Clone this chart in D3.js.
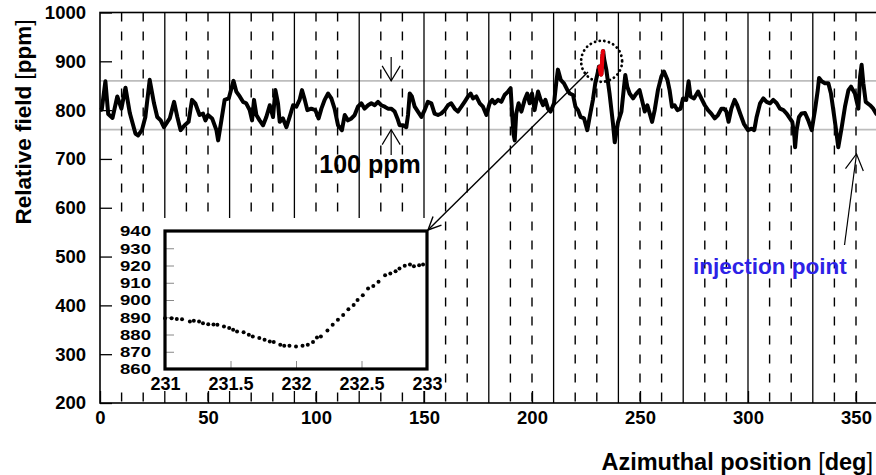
<!DOCTYPE html>
<html><head><meta charset="utf-8">
<script src="https://cdn.jsdelivr.net/npm/d3@7"></script>
<style>
body{margin:0;background:#fff}
svg{display:block}
text{font-family:"Liberation Sans",Arial,Helvetica,sans-serif;font-weight:bold;fill:#000}
</style>
</head><body>
<svg id="c" width="876" height="475"></svg>
<script>
// ---- data ----
const fieldDeg = [0,0.8,2.5,3.8,5.8,8.0,9.9,11.8,13.8,16.4,17.6,19.4,21.0,23.0,25.0,26.5,28.1,29.6,31.2,32.3,34.3,35.8,37.3,39.2,41.0,42.6,44.1,46.1,47.7,48.8,50.0,51.9,53.9,54.7,56.2,57.7,59.6,61.8,63.1,64.7,66.2,67.7,69.3,70.4,71.3,72.4,73.9,75.5,77.0,78.6,80.1,81.2,82.4,83.2,84.7,86.3,87.8,89.4,90.9,92.4,93.5,94.8,96.0,97.8,99.7,101.2,102.5,104.0,105.6,107.1,108.6,110.2,112.0,113.3,114.8,116.4,117.9,119.4,121.0,122.5,124.1,125.6,127.2,128.7,130.2,131.8,133.3,134.9,136.4,137.7,138.7,140.3,141.8,142.6,143.4,144.4,145.7,147.2,148.8,150.3,151.8,153.4,154.9,156.5,158.0,159.6,161.1,162.6,164.2,165.7,167.3,168.8,170.4,171.6,172.7,174.2,175.8,177.3,178.9,180.4,181.6,182.7,184.3,185.8,187.3,188.9,190.1,190.7,191.4,192.0,192.7,193.8,195.1,196.6,197.8,198.9,200.0,201.2,202.8,204.0,205.1,206.2,207.4,208.6,210.2,211.3,212.0,213.3,214.8,216.4,217.5,219.0,220.1,221.3,222.5,224.1,225.6,226.7,228.2,229.3,230.5,233.4,234.4,235.9,237.5,238.3,239.8,241.4,242.6,243.2,244.1,245.2,246.8,248.3,249.8,250.9,252.2,253.4,254.5,255.6,256.8,258.3,259.9,261.1,262.7,263.7,264.8,266.0,267.3,268.8,269.9,271.4,272.5,273.4,275.0,276.9,278.4,280.0,281.5,283.0,284.6,286.1,287.7,288.9,290.0,291.0,292.3,293.8,295.0,296.6,298.1,300.0,301.7,302.9,304.0,305.6,307.1,308.6,310.2,311.7,313.3,314.8,316.4,317.9,319.4,320.5,321.5,321.8,322.5,323.6,324.8,326.4,327.9,329.5,331.0,332.3,332.9,334.1,335.6,337.2,338.4,339.5,340.6,341.8,343.4,344.9,346.5,347.7,349.5,351.1,351.9,352.6,353.4,354.5,356.5,358.0,359.3,360];
const fieldPpm = [800,801,859,792,784,828,803,846,794,752,748,759,786,862,814,786,779,765,776,783,817,786,759,769,776,821,814,790,793,779,790,783,759,738,779,821,824,860,838,828,817,814,800,779,821,790,779,769,786,810,786,841,814,776,783,765,786,810,807,821,841,821,800,803,800,783,803,821,834,824,803,769,759,790,779,783,790,807,814,803,810,814,810,817,810,807,803,803,797,783,769,769,765,790,834,828,807,797,786,800,817,814,793,790,793,800,810,814,803,797,807,817,828,834,824,828,814,807,790,814,821,814,821,817,831,838,845,800,752,738,793,814,797,821,834,814,834,800,838,821,810,821,803,797,814,859,883,862,855,841,834,831,807,800,786,783,759,786,821,855,878,905,883,834,772,734,775,797,848,872,848,834,824,834,841,821,797,810,793,776,800,841,869,879,862,841,807,810,800,803,824,821,859,828,824,838,824,810,800,793,783,790,803,803,797,776,803,821,810,790,772,759,762,759,786,814,824,817,814,821,814,803,800,793,783,776,745,724,759,786,793,794,779,759,800,841,866,859,855,855,834,800,765,724,765,807,841,848,834,803,869,893,855,817,810,803,793,790];

// zoomed section 231-233 deg (inset, and red part of main curve)
const zoomDeg = [231.00,231.05,231.09,231.13,231.19,231.22,231.26,231.29,231.33,231.37,231.40,231.45,231.49,231.52,231.55,231.60,231.64,231.67,231.72,231.76,231.80,231.83,231.88,231.91,231.95,232.00,232.05,232.09,232.13,232.16,232.19,232.24,232.28,232.32,232.36,232.40,232.44,232.47,232.51,232.55,232.59,232.63,232.68,232.72,232.76,232.79,232.83,232.87,232.90,232.94,232.97];
const zoomPpm = [889.4,889.4,889.0,888.8,887.5,887.9,887.5,886.5,886.0,885.8,885.6,884.6,883.7,882.7,881.7,881.3,879.8,878.8,877.9,876.9,876.0,875.6,874.0,873.5,873.5,873.1,873.5,874.0,875.6,878.3,878.8,882.3,885.6,888.5,891.3,894.6,897.1,900.0,902.7,906.7,908.1,910.6,914.4,915.4,916.7,918.3,919.8,920.6,919.6,920.2,920.6];

const xTickLabels = [0,50,100,150,200,250,300,350];
const yTickLabels = [200,300,400,500,600,700,800,900,1000];
const insetXTicks = [231,231.5,232,232.5,233];
const insetYTicks = [860,870,880,890,900,910,920,930,940];
const solidLinesDeg = [30,60,90,120,150,180,210,240,270,300,330];
const dashedLinesDeg = [10,20,40,50,70,80,100,110,130,140,160,170,190,200,220,230,250,260,280,290,310,320,340,350];
const bandPpm = [760,860];
const ppmArrowDeg = 134.8;
const injectionDeg = 350;

// ---- scales ----
const svg = d3.select("#c");
const x = d3.scaleLinear().domain([0,360]).range([100,877.6]);
const y = d3.scaleLinear().domain([200,1000]).range([403,12.5]);
const xi = d3.scaleLinear().domain([231,233]).range([165,427]);
const yi = d3.scaleLinear().domain([860,940]).range([369,231]);
const FONT = "'Liberation Sans',Arial,sans-serif";

// grid band lines
svg.append("g").selectAll("line").data(bandPpm).join("line")
  .attr("x1",x(0)).attr("x2",876).attr("y1",d=>y(d)).attr("y2",d=>y(d))
  .attr("stroke","#bdbdbd").attr("stroke-width",1.6);

// vertical lines
svg.append("g").selectAll("line").data(solidLinesDeg).join("line")
  .attr("x1",d=>x(d)).attr("x2",d=>x(d)).attr("y1",y(1000)).attr("y2",y(200))
  .attr("stroke","#000").attr("stroke-width",1.3);
svg.append("g").selectAll("line").data(dashedLinesDeg).join("line")
  .attr("x1",d=>x(d)).attr("x2",d=>x(d)).attr("y1",y(1000)).attr("y2",y(200))
  .attr("stroke","#000").attr("stroke-width",1.4).attr("stroke-dasharray","9,10");

// main curve
const mainPts = fieldDeg.map((d,i)=>[d,fieldPpm[i]])
  .concat(zoomDeg.map((d,i)=>[d,zoomPpm[i]]))
  .sort((a,b)=>a[0]-b[0]);
const line = d3.line().x(d=>x(d[0])).y(d=>y(d[1]));
svg.append("path").datum(mainPts).attr("d",line)
  .attr("fill","none").attr("stroke","#000").attr("stroke-width",4).attr("stroke-linejoin","round");
svg.append("path").datum(zoomDeg.map((d,i)=>[d,zoomPpm[i]])).attr("d",line)
  .attr("fill","none").attr("stroke","#e8000b").attr("stroke-width",4.2).attr("stroke-linejoin","round");

// main axes
const gx = svg.append("g").attr("transform",`translate(0,${y(200)})`);
gx.call(d3.axisBottom(x).tickValues(d3.range(0,361,10)).tickSize(-6).tickFormat(""));
gx.call(d3.axisBottom(x).tickValues(xTickLabels).tickSize(-12).tickPadding(8).tickFormat(d3.format("d")));
const gy = svg.append("g").attr("transform",`translate(${x(0)},0)`);
gy.call(d3.axisLeft(y).tickValues(d3.range(200,1001,20)).tickSize(-6).tickFormat(""));
gy.call(d3.axisLeft(y).tickValues(yTickLabels).tickSize(-12).tickPadding(14).tickFormat(d3.format("d")));
[gx,gy].forEach(g=>{
  g.selectAll("path.domain").remove();
  g.selectAll(".tick line").attr("stroke","#000").attr("stroke-width",1.3);
  g.selectAll("text").style("font-size","18.5px").style("font-family",FONT).style("font-weight","bold");
});
// frame
svg.append("rect").attr("x",x(0)).attr("y",y(1000)).attr("width",900).attr("height",y(200)-y(1000))
  .attr("fill","none").attr("stroke","#000").attr("stroke-width",1.6);

// ---- inset pad ----
svg.append("rect").attr("x",113).attr("y",218).attr("width",330).attr("height",173).attr("fill","#fff");
const gxi = svg.append("g").attr("transform",`translate(0,${yi(860)})`);
gxi.call(d3.axisBottom(xi).tickValues(d3.range(231,233.001,0.1)).tickSize(-4).tickFormat(""));
gxi.call(d3.axisBottom(xi).tickValues(insetXTicks).tickSize(-8).tickPadding(8).tickFormat(d=>d3.format("")(d)));
const gyi = svg.append("g").attr("transform",`translate(${xi(231)},0)`);
gyi.call(d3.axisLeft(yi).tickValues(d3.range(860,940.001,2)).tickSize(-5).tickFormat(""));
gyi.call(d3.axisLeft(yi).tickValues(insetYTicks).tickSize(-9).tickPadding(14).tickFormat(d3.format("d")));
[gxi,gyi].forEach(g=>{
  g.selectAll("path.domain").remove();
  g.selectAll(".tick line").attr("stroke","#888").attr("stroke-width",1);
  g.selectAll("text").style("font-family",FONT).style("font-weight","bold");
});
gxi.selectAll("text").style("font-size","18px");
gyi.selectAll("text").style("font-size","15px").attr("textLength",31).attr("lengthAdjust","spacingAndGlyphs");
svg.append("rect").attr("x",xi(231)).attr("y",yi(940)).attr("width",xi(233)-xi(231)).attr("height",yi(860)-yi(940))
  .attr("fill","none").attr("stroke","#000").attr("stroke-width",3.2);
svg.append("g").selectAll("circle").data(zoomDeg.map((d,i)=>[d,zoomPpm[i]])).join("circle")
  .attr("cx",d=>xi(d[0])).attr("cy",d=>yi(d[1])).attr("r",2).attr("fill","#000");

// ---- annotations ----
function arrow(x1,y1,x2,y2,len,half,w){
  const g = svg.append("g").attr("stroke","#000").attr("stroke-width",w).attr("fill","none");
  g.append("line").attr("x1",x1).attr("y1",y1).attr("x2",x2).attr("y2",y2);
  const a = Math.atan2(y2-y1,x2-x1);
  const bx = x2-len*Math.cos(a), by = y2-len*Math.sin(a);
  const px = -Math.sin(a)*half, py = Math.cos(a)*half;
  g.append("path").attr("d",`M${bx+px},${by+py}L${x2},${y2}L${bx-px},${by-py}`);
}
// 100 ppm arrows
arrow(x(ppmArrowDeg),57,x(ppmArrowDeg),y(860),15,9,1.2);
arrow(x(ppmArrowDeg),155,x(ppmArrowDeg),y(760),15,9,1.2);
svg.append("text").attr("x",370).attr("y",173).attr("text-anchor","middle").style("font-size","25px").text("100 ppm");

// dotted circle around zoomed region
svg.append("circle").attr("cx",x(232)+0.5).attr("cy",y(900)).attr("r",20.5)
  .attr("fill","none").attr("stroke","#000").attr("stroke-width",2.8)
  .attr("stroke-dasharray","0.1,4.6").attr("stroke-linecap","round");
// leader to inset
arrow(588,72,xi(233)+1,yi(940)-1,13,6,1.4);

// injection point
arrow(844.5,245,x(injectionDeg)+0.5,154,16,9,1.2);
svg.append("text").attr("x",693).attr("y",274).style("font-size","22.5px").style("fill","#2d22e6").text("injection point");

// axis titles
const xt = svg.append("text").attr("x",873).attr("y",470).attr("text-anchor","end").style("font-size","23.5px");
xt.append("tspan").text("Azimuthal position ");
xt.append("tspan").style("font-weight","normal").text("[");
xt.append("tspan").text("deg");
xt.append("tspan").style("font-weight","normal").text("]");
const yt = svg.append("text").attr("transform","translate(31,122) rotate(-90)").attr("text-anchor","middle").style("font-size","22.5px");
yt.append("tspan").text("Relative field ");
yt.append("tspan").style("font-weight","normal").text("[");
yt.append("tspan").text("ppm");
yt.append("tspan").style("font-weight","normal").text("]");
</script>
</body></html>
